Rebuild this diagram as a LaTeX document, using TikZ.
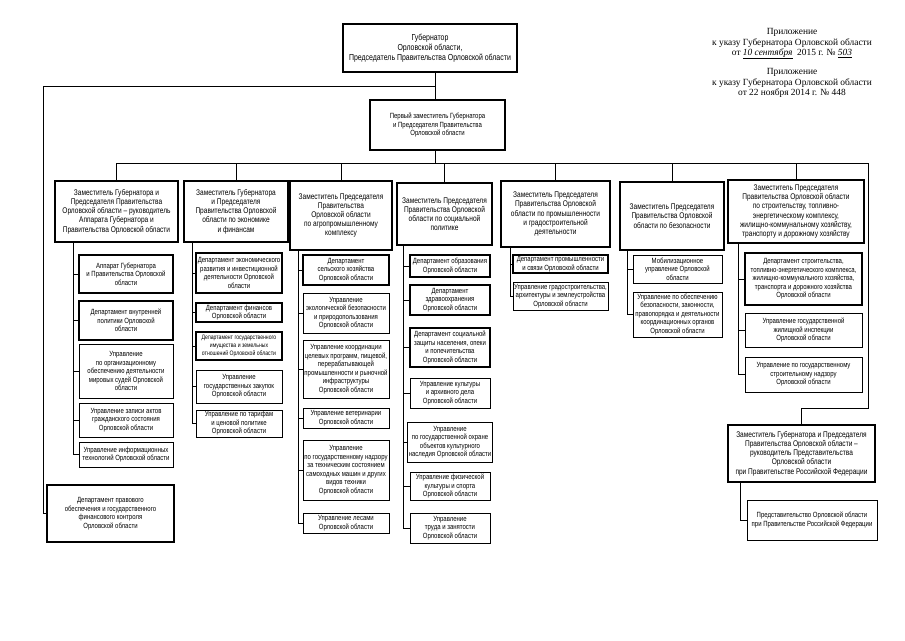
\documentclass[tikz,border=0pt]{standalone}
\usepackage{fontspec}
\setmainfont{Liberation Sans}[FakeStretch=0.8]
\newfontfamily\annfont{Liberation Serif}
\tikzset{
  orgb/.style={draw=black, line width=0.8pt, align=center, inner sep=1pt, font=\fontsize{7.5}{8.5}\selectfont},
  deptb/.style={orgb, line width=1.4pt},
  depb/.style={orgb, line width=1.6pt, font=\fontsize{8.2}{9.2}\selectfont},
  topb/.style={orgb, line width=1.8pt, font=\fontsize{8.7}{9.8}\selectfont},
  conn/.style={draw=black, line width=0.9pt},
  ann/.style={align=center, inner sep=0pt, font=\annfont\fontsize{9.4}{10.2}\selectfont}
}
\newcommand\orgbox[7]{\node[#1, minimum width={(#5-#3)*1pt}, minimum height={(#6-#4)*1pt}] (#2) at ({(#3+#5)/2},{(#4+#6)/2}) {#7};}
\newcommand\orgtree[3]{%
  \coordinate (v#1) at (#2,0);
  \draw[conn] (v#1 |- d#1.south) -- (v#1 |- #3.west);
}
\begin{document}
\begin{tikzpicture}[x=1pt,y=-1pt]
\path[use as bounding box, fill=white] (0,0) rectangle (905,640);

% top
\orgbox{topb}{gov}{343}{24}{517}{72}{Губернатор\\Орловской области,\\Председатель Правительства Орловской области}
\orgbox{depb,font=\fontsize{7.5}{8.6}\selectfont}{fd}{370}{100}{505}{150}{Первый заместитель Губернатора\\и Председателя Правительства\\Орловской области}

\node[ann] (ann1) at (792,44) {Приложение\\к указу Губернатора Орловской области\\от \underline{\textit{10 сентября}}\ \ 2015 г. № \underline{\textit{503}}};
\node[ann] (ann2) at (792,83) {Приложение\\к указу Губернатора Орловской области\\от 22 ноября 2014 г. № 448};

% deputies
\orgbox{depb}{d1}{55}{181}{178}{242}{Заместитель Губернатора и\\Председателя Правительства\\Орловской области – руководитель\\Аппарата Губернатора и\\Правительства Орловской области}
\orgbox{depb}{d2}{184}{181}{288}{242}{Заместитель Губернатора\\и Председателя\\Правительства Орловской\\области по экономике\\и финансам}
\orgbox{depb}{d3}{290}{181}{392}{250}{Заместитель Председателя\\Правительства\\Орловской области\\по агропромышленному\\комплексу}
\orgbox{depb}{d4}{397}{183}{492}{245}{Заместитель Председателя\\Правительства Орловской\\области по социальной\\политике}
\orgbox{depb}{d5}{501}{181}{610}{247}{Заместитель Председателя\\Правительства Орловской\\области по промышленности\\и градостроительной\\деятельности}
\orgbox{depb}{d6}{620}{182}{724}{250}{Заместитель Председателя\\Правительства Орловской\\области по безопасности}
\orgbox{depb}{d7}{728}{180}{864}{243}{Заместитель Председателя\\Правительства Орловской области\\по строительству, топливно-\\энергетическому комплексу,\\жилищно-коммунальному хозяйству,\\транспорту и дорожному хозяйству}
\orgbox{depb}{d8}{728}{425}{875}{482}{Заместитель Губернатора и Председателя\\Правительства Орловской области –\\руководитель Представительства\\Орловской области\\при Правительстве Российской Федерации}

% column 1
\orgbox{deptb}{s1a}{79}{255}{173}{293}{Аппарат Губернатора\\и Правительства Орловской\\области}
\orgbox{deptb}{s1b}{79}{301}{173}{340}{Департамент внутренней\\политики Орловской\\области}
\orgbox{orgb}{s1c}{79}{344}{173}{398}{Управление\\по организационному\\обеспечению деятельности\\мировых судей Орловской\\области}
\orgbox{orgb}{s1d}{79}{403}{173}{437}{Управление записи актов\\гражданского состояния\\Орловской области}
\orgbox{orgb}{s1e}{79}{442}{173}{467}{Управление информационных\\технологий Орловской области}
\orgbox{deptb}{pravo}{47}{485}{174}{542}{Департамент правового\\обеспечения и государственного\\финансового контроля\\Орловской области}

% column 2
\orgbox{deptb}{s2a}{196}{253}{282}{293}{Департамент экономического\\развития и инвестиционной\\деятельности Орловской\\области}
\orgbox{deptb}{s2b}{196}{303}{282}{322}{Департамент финансов\\Орловской области}
\orgbox{deptb,font=\fontsize{6.4}{7.6}\selectfont}{s2c}{196}{332}{282}{360}{Департамент государственного\\имущества и земельных\\отношений Орловской области}
\orgbox{orgb}{s2d}{196}{370}{282}{403}{Управление\\государственных закупок\\Орловской области}
\orgbox{orgb}{s2e}{196}{410}{282}{437}{Управление по тарифам\\и ценовой политике\\Орловской области}

% column 3
\orgbox{deptb}{s3a}{303}{255}{389}{285}{Департамент\\сельского хозяйства\\Орловской области}
\orgbox{orgb}{s3b}{303}{293}{389}{333}{Управление\\экологической безопасности\\и природопользования\\Орловской области}
\orgbox{orgb}{s3c}{303}{340}{389}{398}{Управление координации\\целевых программ, пищевой,\\перерабатывающей\\промышленности и рыночной\\инфраструктуры\\Орловской области}
\orgbox{orgb}{s3d}{303}{408}{389}{428}{Управление ветеринарии\\Орловской области}
\orgbox{orgb}{s3e}{303}{440}{389}{500}{Управление\\по государственному надзору\\за техническим состоянием\\самоходных машин и других\\видов техники\\Орловской области}
\orgbox{orgb}{s3f}{303}{513}{389}{533}{Управление лесами\\Орловской области}

% column 4
\orgbox{deptb}{s4a}{410}{255}{490}{277}{Департамент образования\\Орловской области}
\orgbox{deptb}{s4b}{410}{285}{490}{315}{Департамент\\здравоохранения\\Орловской области}
\orgbox{deptb}{s4c}{410}{328}{490}{367}{Департамент социальной\\защиты населения, опеки\\и попечительства\\Орловской области}
\orgbox{orgb}{s4d}{410}{378}{490}{408}{Управление культуры\\и архивного дела\\Орловской области}
\orgbox{orgb}{s4e}{410}{422}{490}{462}{Управление\\по государственной охране\\объектов культурного\\наследия Орловской области}
\orgbox{orgb}{s4f}{410}{472}{490}{500}{Управление физической\\культуры и спорта\\Орловской области}
\orgbox{orgb}{s4g}{410}{513}{490}{543}{Управление\\труда и занятости\\Орловской области}

% column 5
\orgbox{deptb}{s5a}{513}{255}{608}{273}{Департамент промышленности\\и связи Орловской области}
\orgbox{orgb}{s5b}{513}{282}{608}{310}{Управление градостроительства,\\архитектуры и землеустройства\\Орловской области}

% column 6
\orgbox{orgb}{s6a}{633}{255}{722}{283}{Мобилизационное\\управление Орловской\\области}
\orgbox{orgb}{s6b}{633}{292}{722}{337}{Управление по обеспечению\\безопасности, законности,\\правопорядка и деятельности\\координационных органов\\Орловской области}

% column 7
\orgbox{deptb}{s7a}{745}{253}{862}{305}{Департамент строительства,\\топливно-энергетического комплекса,\\жилищно-коммунального хозяйства,\\транспорта и дорожного хозяйства\\Орловской области}
\orgbox{orgb}{s7b}{745}{313}{862}{347}{Управление государственной\\жилищной инспекции\\Орловской области}
\orgbox{orgb}{s7c}{745}{357}{862}{392}{Управление по государственному\\строительному надзору\\Орловской области}

% representation
\orgbox{orgb}{s8a}{747}{500}{877}{540}{Представительство Орловской области\\при Правительстве Российской Федерации}

% connectors: top
\coordinate (tc) at (435,0);
\coordinate (gl) at (43,86);
\coordinate (busR) at (868,163);
\coordinate (rc) at (868,408);
\draw[conn] (tc |- gov.south) -- (tc |- fd.north);
\draw[conn] (tc |- gl) -- (gl) -- (gl |- pravo.west) -- (pravo.west);
\draw[conn] (tc |- fd.south) -- (tc |- busR);
\draw[conn] (d1.north |- busR) -- (busR);
\foreach \d in {d1,d2,d3,d4,d5,d6,d7} \draw[conn] (\d.north |- busR) -- (\d.north);
\draw[conn] (busR) -- (rc) -- (rc -| d8.north) -- (d8.north);

% connectors: columns
\orgtree{1}{73}{s1e}
\foreach \s in {s1a,s1b,s1c,s1d,s1e} \draw[conn] (v1 |- \s.west) -- (\s.west);
\orgtree{2}{192}{s2e}
\foreach \s in {s2a,s2b,s2c,s2d,s2e} \draw[conn] (v2 |- \s.west) -- (\s.west);
\orgtree{3}{298}{s3f}
\foreach \s in {s3a,s3b,s3c,s3d,s3e,s3f} \draw[conn] (v3 |- \s.west) -- (\s.west);
\orgtree{4}{403}{s4g}
\foreach \s in {s4a,s4b,s4c,s4d,s4e,s4f,s4g} \draw[conn] (v4 |- \s.west) -- (\s.west);
\orgtree{5}{510}{s5b}
\foreach \s in {s5a,s5b} \draw[conn] (v5 |- \s.west) -- (\s.west);
\orgtree{6}{627}{s6b}
\foreach \s in {s6a,s6b} \draw[conn] (v6 |- \s.west) -- (\s.west);
\orgtree{7}{738}{s7c}
\foreach \s in {s7a,s7b,s7c} \draw[conn] (v7 |- \s.west) -- (\s.west);
\orgtree{8}{740}{s8a}
\draw[conn] (v8 |- s8a.west) -- (s8a.west);
\end{tikzpicture}
\end{document}
